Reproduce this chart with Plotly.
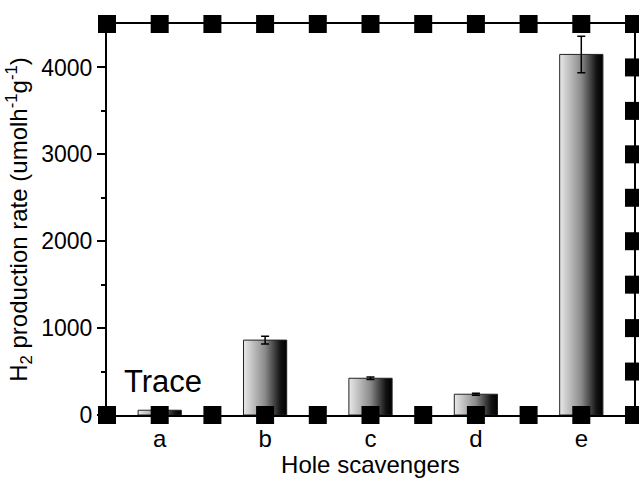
import numpy as np
import plotly.graph_objects as go

# Hole scavenger samples and their H2 evolution rates
categories = ["a", "b", "c", "d", "e"]
rates = [55, 862, 423, 239, 4150]          # umol h^-1 g^-1
errors = [None, 45, 15, 12, 210]
y_max = 4500
y_step = 500

bar_half = 0.205
font_family = "Liberation Sans, Arial, sans-serif"
gradient = [[0.0, "#e8e8e8"], [0.5, "#8a8a8a"], [0.86, "#111111"], [1.0, "#000000"]]

fig = go.Figure()

# gradient-filled bars
for i, (cat, val) in enumerate(zip(categories, rates)):
    fig.add_trace(go.Scatter(
        x=[i - bar_half, i - bar_half, i + bar_half, i + bar_half, i - bar_half],
        y=[0, val, val, 0, 0],
        mode="lines",
        fill="toself",
        fillgradient=dict(type="horizontal", colorscale=gradient),
        line=dict(color="#222222", width=1),
        hoverinfo="skip",
        showlegend=False,
        name=cat,
    ))

# error bars
err_x = [i for i, e in enumerate(errors) if e is not None]
fig.add_trace(go.Scatter(
    x=err_x,
    y=[rates[i] for i in err_x],
    mode="markers",
    marker=dict(size=1, color="rgba(0,0,0,0)"),
    error_y=dict(type="data", array=[errors[i] for i in err_x],
                 width=4, thickness=1.5, color="black"),
    hoverinfo="skip",
    showlegend=False,
))

# square markers along the frame
half_steps = np.arange(-0.5, len(categories) - 0.5 + 0.01, 0.5)
right_steps = np.arange(0, y_max + 1, y_step)
frame_x = list(half_steps) + list(half_steps) + [len(categories) - 0.5] * len(right_steps)
frame_y = [0] * len(half_steps) + [y_max] * len(half_steps) + list(right_steps)
fig.add_trace(go.Scatter(
    x=frame_x, y=frame_y,
    mode="markers",
    marker=dict(symbol="square", size=18, color="black", line=dict(width=0)),
    cliponaxis=False,
    hoverinfo="skip",
    showlegend=False,
))

fig.add_annotation(
    x=0.03, y=390, xref="x", yref="y",
    text="Trace", showarrow=False,
    font=dict(family=font_family, size=31, color="black"),
    xanchor="center", yanchor="middle",
)

fig.update_layout(
    width=639, height=478,
    margin=dict(l=107, r=3, t=24, b=63),
    paper_bgcolor="white", plot_bgcolor="white",
    font=dict(family=font_family, size=24, color="black"),
)
fig.update_xaxes(
    range=[-0.5, len(categories) - 0.5],
    tickvals=list(range(len(categories))),
    ticktext=categories,
    showgrid=False, zeroline=False,
    showline=True, linecolor="black", linewidth=2, mirror=True,
    ticks="outside", ticklen=1, tickcolor="rgba(0,0,0,0)",
    tickfont=dict(size=24),
    title=dict(text="Hole scavengers", font=dict(size=24), standoff=0),
)
fig.update_yaxes(
    range=[0, y_max],
    tickvals=[0, 1000, 2000, 3000, 4000],
    showgrid=False, zeroline=False,
    showline=True, linecolor="black", linewidth=2, mirror=True,
    ticks="outside", ticklen=8, tickwidth=2, tickcolor="black",
    minor=dict(dtick=500, ticks="outside", ticklen=4, tickwidth=2, tickcolor="black"),
    tickfont=dict(size=23),
    title=dict(text="H<sub>2</sub> production rate (umolh<sup>-1</sup>g<sup>-1</sup>)",
               font=dict(size=24), standoff=7),
)

fig.write_html("out.html")
